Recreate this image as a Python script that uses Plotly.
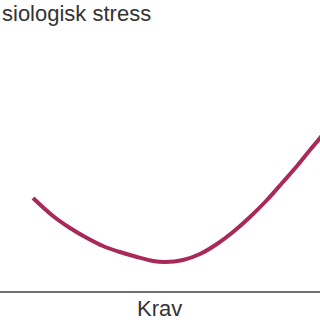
import plotly.graph_objects as go

krav = [33, 53, 70, 87, 103, 120, 137, 153, 165, 183, 200, 217, 233, 250, 267, 283, 297, 310, 320, 330]
stress = [93, 75, 63, 53, 45, 39, 34, 30, 29, 31, 37, 47, 59, 74, 91, 109, 125, 141, 153, 166]
x_title = "Krav"
y_title = "siologisk stress"

fig = go.Figure()
fig.add_trace(go.Scatter(x=krav, y=stress, mode="lines",
                         line=dict(color="#a82a58", width=4, shape="spline", smoothing=1.0),
                         hoverinfo="skip"))
fig.update_layout(
    width=320, height=320,
    margin=dict(l=0, r=0, t=0, b=29),
    paper_bgcolor="white", plot_bgcolor="white",
    showlegend=False,
    font=dict(family="Liberation Sans, Arial, sans-serif", color="#333333"),
    xaxis=dict(range=[0, 320], showgrid=False, zeroline=False, showticklabels=False,
               ticks="", showline=True, linecolor="#707070", linewidth=2),
    yaxis=dict(range=[0, 291], showgrid=False, zeroline=False, showticklabels=False,
               ticks="", showline=False),
    annotations=[
        dict(text=y_title, xref="paper", yref="paper", x=0, y=1,
             xanchor="left", yanchor="top", yshift=1, showarrow=False,
             font=dict(size=22, color="#333333")),
        dict(text=x_title, xref="paper", yref="paper", x=0.497, y=0,
             xanchor="center", yanchor="top", yshift=-4, borderpad=0, showarrow=False,
             font=dict(size=22, color="#333333")),
    ],
)
fig.write_html("out.html")
